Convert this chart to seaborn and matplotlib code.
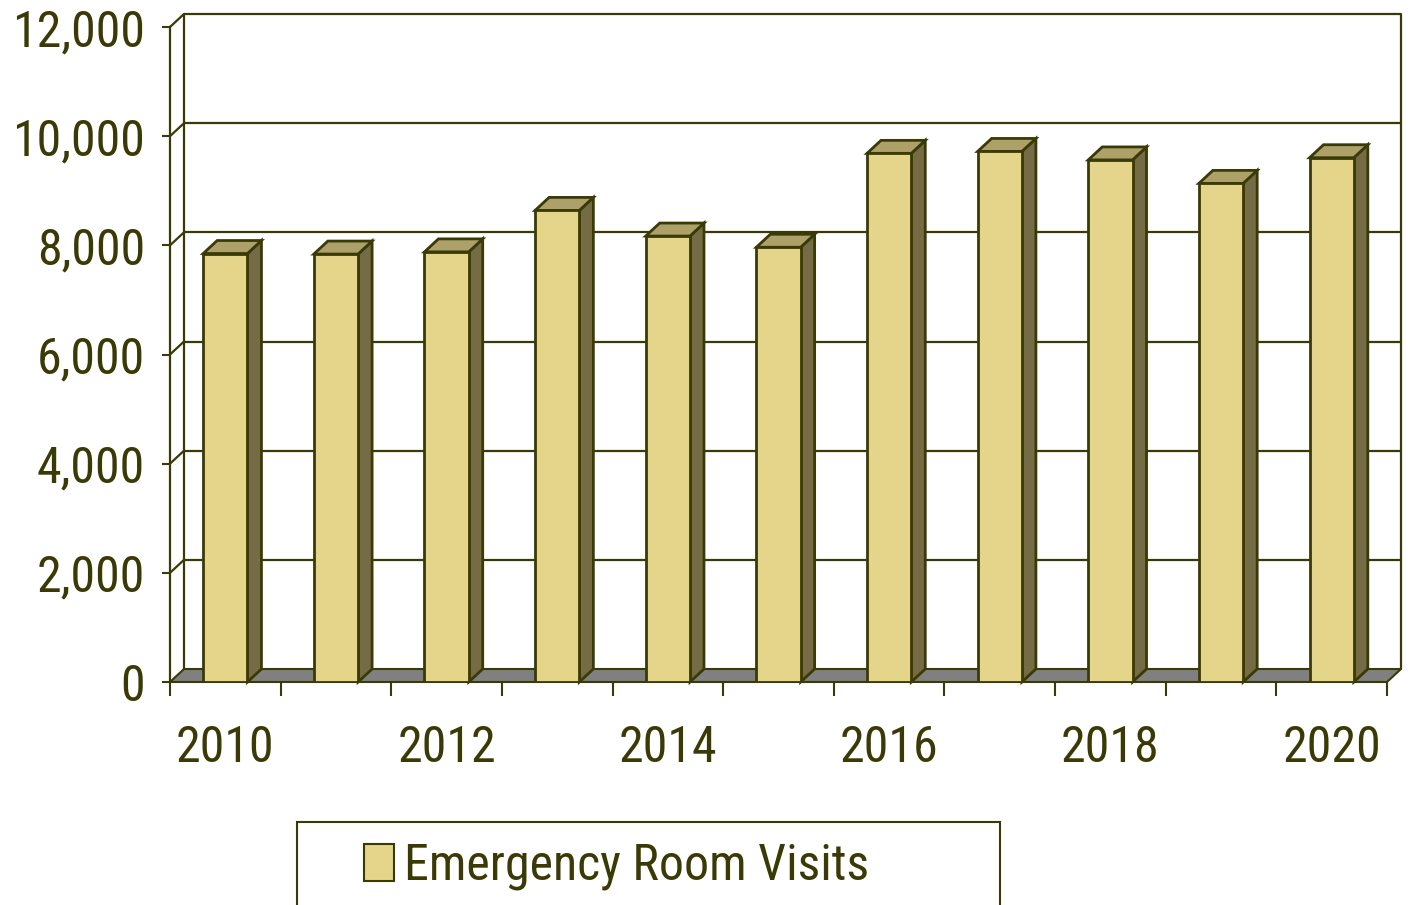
import numpy as np
import pandas as pd
import matplotlib
matplotlib.use("Agg")
import matplotlib.pyplot as plt
from matplotlib.patches import Polygon, Rectangle, Patch
from matplotlib import font_manager as fm
import seaborn as sns

# ---- data ----
years = ['2010', '2011', '2012', '2013', '2014', '2015', '2016', '2017', '2018', '2019', '2020']
visits = [7850, 7840, 7880, 8640, 8170, 7965, 9685, 9720, 9565, 9135, 9605]
x_labels = ['2010', '', '2012', '', '2014', '', '2016', '', '2018', '', '2020']
y_ticks = [0, 2000, 4000, 6000, 8000, 10000, 12000]
y_labels = ['0', '2,000', '4,000', '6,000', '8,000', '10,000', '12,000']
series_name = 'Emergency Room Visits'

FRONT = '#E4D58B'
SIDE = '#756C45'
TOP = '#ADA069'
FLOOR = '#808080'
INK = '#3A3A06'

sns.set_theme(style='white')
available = {f.name for f in fm.fontManager.ttflist}
family = 'Liberation Sans'
for cand in ['Liberation Sans Narrow', 'Arial Narrow', 'Roboto Condensed', 'Archivo Narrow',
             'PT Sans Narrow', 'Liberation Sans']:
    if cand in available:
        family = cand
        break
plt.rcParams['font.family'] = [family, 'DejaVu Sans']

W, H = 1410, 905
fig = plt.figure(figsize=(W / 100, H / 100), dpi=100)

# choose a font size so that "12,000" is about 133 px wide (as in the reference)
probe = fig.text(0, 0, '12,000', fontsize=37)
fig.canvas.draw()
pw = probe.get_window_extent().width
probe.remove()
FS = min(38.0, 37.0 * 133.0 / pw)

ax_l, ax_r, ax_b, ax_t = 170, 1387, 682, 27
ax = fig.add_axes([ax_l / W, 1 - ax_b / H, (ax_r - ax_l) / W, (ax_b - ax_t) / H])

df = pd.DataFrame({'Year': years, 'Visits': visits})
sns.barplot(data=df, x='Year', y='Visits', color=FRONT, saturation=1, width=0.4,
            edgecolor=INK, linewidth=2, ax=ax, zorder=5)
ax.set_xlim(-0.5, len(years) - 0.5)
ax.set_ylim(0, 12000)

# depth of the 3-D effect, in data units
depth_px_x, depth_px_y = 14, 13
dxu = depth_px_x / ((ax_r - ax_l) / len(years))
dyu = depth_px_y / ((ax_b - ax_t) / 12000)
x_lo, x_hi = -0.5, len(years) - 0.5

bars = [p for p in ax.patches]

# floor
ax.add_patch(Polygon([(x_lo, 0), (x_lo + dxu, dyu), (x_hi + dxu, dyu), (x_hi, 0)],
                     closed=True, facecolor=FLOOR, edgecolor=INK, lw=1.5,
                     clip_on=False, zorder=2))
# back wall gridlines and connectors
for v in y_ticks[1:]:
    ax.plot([x_lo + dxu, x_hi + dxu], [v + dyu, v + dyu], color=INK, lw=1.6,
            clip_on=False, zorder=1, solid_capstyle='butt')
    ax.plot([x_lo, x_lo + dxu], [v, v + dyu], color=INK, lw=1.6, clip_on=False, zorder=1)
for xv in (x_lo + dxu, x_hi + dxu):
    ax.plot([xv, xv], [dyu, 12000 + dyu], color=INK, lw=1.6, clip_on=False, zorder=1)

# 3-D faces of bars
for p in bars:
    x0, w, h = p.get_x(), p.get_width(), p.get_height()
    ax.add_patch(Polygon([(x0 + w, 0), (x0 + w + dxu, dyu), (x0 + w + dxu, h + dyu), (x0 + w, h)],
                         closed=True, facecolor=SIDE, edgecolor=INK, lw=2, zorder=4,
                         clip_on=False, joinstyle='miter'))
    ax.add_patch(Polygon([(x0, h), (x0 + dxu, h + dyu), (x0 + w + dxu, h + dyu), (x0 + w, h)],
                         closed=True, facecolor=TOP, edgecolor=INK, lw=2, zorder=4,
                         clip_on=False, joinstyle='miter'))

# spines
for s in ['top', 'right', 'bottom']:
    ax.spines[s].set_visible(False)
ax.spines['left'].set_color(INK)
ax.spines['left'].set_linewidth(1.6)
ax.set_facecolor('none')

ax.set_xlabel('')
ax.set_ylabel('')
ax.set_xticks(range(len(years)))
ax.set_xticklabels(x_labels)
ax.set_xticks(np.arange(-0.5, len(years)), minor=True)
ax.tick_params(axis='x', which='major', length=0, pad=30, labelsize=FS, labelcolor=INK)
ax.tick_params(axis='x', which='minor', length=10, width=1.5, color=INK, direction='out', bottom=True)
ax.set_yticks(y_ticks)
ax.set_yticklabels(y_labels)
ax.tick_params(axis='y', length=6, width=1.5, color=INK, direction='out', left=True,
               pad=12, labelsize=FS, labelcolor=INK)

# legend
fig.patches.append(Rectangle((297 / W, -0.02), (1000 - 297) / W, (905 - 822) / H + 0.02,
                             transform=fig.transFigure, fill=False, edgecolor=INK, lw=1.5))
fig.legend(handles=[Patch(facecolor=FRONT, edgecolor=INK, lw=1.5, label=series_name)],
           loc='center left', bbox_to_anchor=(364 / W, 1 - 866 / H), frameon=False,
           fontsize=FS, labelcolor=INK, handlelength=0.6, handleheight=0.75,
           handletextpad=0.2, borderpad=0, borderaxespad=0)

fig.savefig('out.png', dpi=100)
